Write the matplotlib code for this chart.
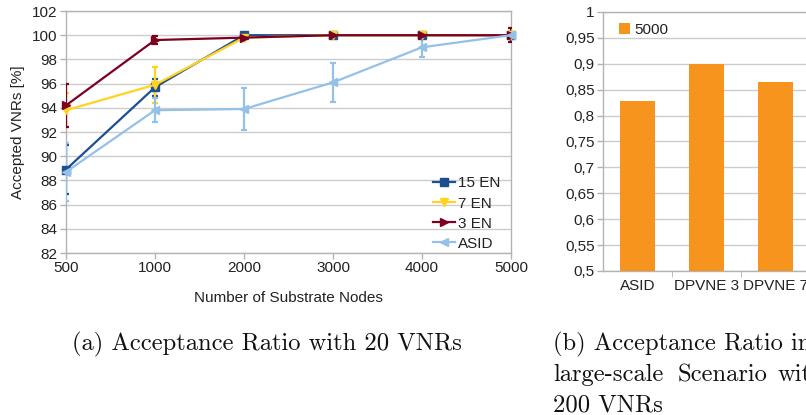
import matplotlib
matplotlib.use("Agg")
import matplotlib.pyplot as plt
import matplotlib.ticker as mt

# Left chart: acceptance ratio vs substrate size
nodes = ["500", "1000", "2000", "3000", "4000", "5000"]
en15 = [88.9, 95.7, 100.0, 100.0, 100.0, 100.0]
en15_err = [2.0, 0.7, 0.0, 0.0, 0.0, 0.0]
en7 = [93.8, 95.9, 99.8, 100.0, 100.0, 100.0]
en7_err = [1.4, 1.5, 0.0, 0.0, 0.0, 0.0]
en3 = [94.2, 99.6, 99.8, 100.0, 100.0, 100.0]
en3_err = [1.8, 0.3, 0.0, 0.0, 0.0, 0.6]
asid = [88.7, 93.8, 93.9, 96.1, 99.0, 100.0]
asid_err = [2.4, 1.0, 1.7, 1.6, 0.8, 0.3]

# Right chart: large-scale scenario
algos = ["ASID", "DPVNE 3", "DPVNE 7"]
ratio_5000 = [0.829, 0.900, 0.865]

W, H = 806, 415
sans = "Liberation Sans"
fs = 11
grid_c = "#cccccc"
txt_c = "#222222"

fig = plt.figure(figsize=(W / 100, H / 100), dpi=100)


def px_axes(x0, y0, x1, y1):
    return fig.add_axes([x0 / W, 1 - y1 / H, (x1 - x0) / W, (y1 - y0) / H])


def style_axes(ax):
    for s in ax.spines.values():
        s.set_color("#b3b3b3")
        s.set_linewidth(1.0)
    ax.yaxis.grid(True, color=grid_c, linewidth=1.0)
    ax.set_axisbelow(True)
    ax.tick_params(colors="#b3b3b3", labelcolor=txt_c, length=4, width=1.0, labelsize=fs, pad=2)
    for lab in ax.get_xticklabels() + ax.get_yticklabels():
        lab.set_family(sans)


# ---- left chart
ax = px_axes(66, 11, 511, 253)
xs = list(range(len(nodes)))
series = [
    ("15 EN", en15, en15_err, "#1e4f8f", "s"),
    ("7 EN", en7, en7_err, "#ffd320", "v"),
    ("3 EN", en3, en3_err, "#7e0021", ">"),
    ("ASID", asid, asid_err, "#93c1e8", "<"),
]
handles = []
for name, ys, err, c, m in series:
    ax.errorbar(xs, ys, yerr=err, color=c, linewidth=1.6, elinewidth=1.6,
                capsize=2.5, capthick=1.6, fmt="none", zorder=3)
    h, = ax.plot(xs, ys, color=c, linewidth=1.6, marker=m, markersize=6,
                 label=name, zorder=4, clip_on=False)
    handles.append(h)

ax.set_xlim(0, len(nodes) - 1)
ax.set_ylim(82, 102)
ax.set_xticks(xs)
ax.set_xticklabels(nodes)
ax.set_yticks(range(82, 103, 2))
style_axes(ax)
ax.set_xlabel("Number of Substrate Nodes", family=sans, fontsize=fs, color=txt_c, labelpad=11)
ax.set_ylabel("Accepted VNRs [%]", family=sans, fontsize=fs, color=txt_c, labelpad=5)
leg = ax.legend(handles=handles, loc="lower right", bbox_to_anchor=(1.0, -0.035),
                frameon=False, prop={"family": sans, "size": fs},
                handlelength=1.4, handletextpad=0.2, labelspacing=0.4, borderaxespad=0.3)
for t in leg.get_texts():
    t.set_color(txt_c)

# ---- right chart (cropped on the right like the original)
ax2 = px_axes(603, 12, 879, 271)
bx = list(range(len(algos)))
ax2.bar(bx, ratio_5000, width=0.5, color="#f7941d", label="5000", zorder=3)
ax2.set_xlim(-0.5, 3.5)
ax2.set_ylim(0.5, 1.0)
ax2.set_yticks([0.5 + 0.05 * i for i in range(11)])
ax2.yaxis.set_major_formatter(mt.FuncFormatter(lambda v, p: f"{v:.2f}".rstrip("0").rstrip(".").replace(".", ",")))
ax2.set_xticks(bx)
ax2.set_xticklabels(algos)
ax2.set_xticks([0.5, 1.5, 2.5], minor=True)
style_axes(ax2)
ax2.tick_params(axis="x", which="major", length=0, pad=6)
ax2.tick_params(axis="x", which="minor", length=4, colors="#b3b3b3")
leg2 = ax2.legend(loc="upper left", frameon=False, prop={"family": sans, "size": fs},
                  handlelength=0.7, handleheight=0.7, handletextpad=0.3,
                  borderaxespad=0.3, bbox_to_anchor=(0.02, 1.0))
for t in leg2.get_texts():
    t.set_color(txt_c)

# ---- captions
cap = dict(family="cmr10", fontsize=17.7, color="#111111", va="center")
fig.text(267 / W, 1 - 344 / H, "(a) Acceptance Ratio with 20 VNRs", ha="center", **cap)
fig.text(553 / W, 1 - 344 / H, "(b) Acceptance Ratio in", ha="left", **cap)
fig.text(553 / W, 1 - 375 / H, "large-scale", ha="left", **cap)
fig.text(678 / W, 1 - 375 / H, "Scenario", ha="left", **cap)
fig.text(778 / W, 1 - 375 / H, "with", ha="left", **cap)
fig.text(553 / W, 1 - 405 / H, "200 VNRs", ha="left", **cap)

fig.savefig("out.png", dpi=100)
